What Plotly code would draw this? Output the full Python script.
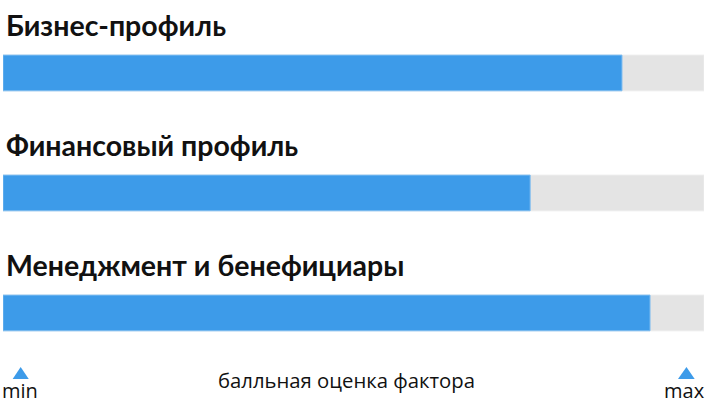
import plotly.graph_objects as go

# factor scores (0 = min, 100 = max)
factors = ["Бизнес-профиль", "Финансовый профиль", "Менеджмент и бенефициары"]
scores = [88.3, 75.2, 92.3]
max_score = 100
scale_labels = ["min", "max"]
axis_caption = "балльная оценка фактора"

blue = "#3d9be9"
track = "#e4e4e4"

rows = list(range(len(factors)))

fig = go.Figure()

# grey background track
fig.add_trace(go.Bar(
    x=[max_score] * len(factors), y=rows, orientation="h",
    width=0.2975, marker=dict(color=track, line=dict(color="#ececec", width=1)),
    hoverinfo="skip", showlegend=False,
))
# blue score bars
fig.add_trace(go.Bar(
    x=scores, y=rows, orientation="h", width=0.2975,
    marker=dict(color=blue, line=dict(color="#7dbcf0", width=1)),
    customdata=factors, hovertemplate="%{customdata}: %{x}<extra></extra>",
    showlegend=False,
))

annotations = []
for i, name in enumerate(factors):
    annotations.append(dict(
        text=name, x=0, xref="paper", xanchor="left", xshift=1,
        y=i, yref="y", yanchor="middle", yshift=48, showarrow=False,
        font=dict(family="Lato", size=28.5, color="#111111", weight="bold"),
    ))

# min / max labels and caption
annotations += [
    dict(text=scale_labels[0], x=0, xref="paper", xanchor="left", xshift=-3,
         y=0.05, yref="paper", yanchor="middle", showarrow=False,
         font=dict(family="Open Sans", size=20, color="#111111")),
    dict(text=scale_labels[1], x=1, xref="paper", xanchor="right", xshift=3,
         y=0.05, yref="paper", yanchor="middle", showarrow=False,
         font=dict(family="Open Sans", size=20, color="#111111")),
    dict(text=axis_caption, x=0.4905, xref="paper", xanchor="center",
         y=0.075, yref="paper", yanchor="middle", showarrow=False,
         font=dict(family="Open Sans", size=20.3, color="#111111")),
]

# small triangles above min / max
shapes = [
    dict(type="path", xref="paper", yref="paper",
         path="M 0.0138 0.078 L 0.0367 0.078 L 0.0252 0.107 Z",
         fillcolor=blue, line=dict(width=0)),
    dict(type="path", xref="paper", yref="paper",
         path="M 0.9629 0.078 L 0.9867 0.078 L 0.9750 0.107 Z",
         fillcolor=blue, line=dict(width=0)),
]

fig.update_layout(
    width=706, height=411,
    margin=dict(l=3, r=2, t=0, b=0),
    barmode="overlay",
    plot_bgcolor="white", paper_bgcolor="white",
    xaxis=dict(range=[0, max_score], visible=False, fixedrange=True),
    yaxis=dict(range=[2.817, -0.608], visible=False, fixedrange=True),
    annotations=annotations,
    shapes=shapes,
)

# drop the default page margin so the chart sits at the window edge
fig.write_html("out.html", config={"displayModeBar": False},
               post_script="document.body.style.margin='0';")
